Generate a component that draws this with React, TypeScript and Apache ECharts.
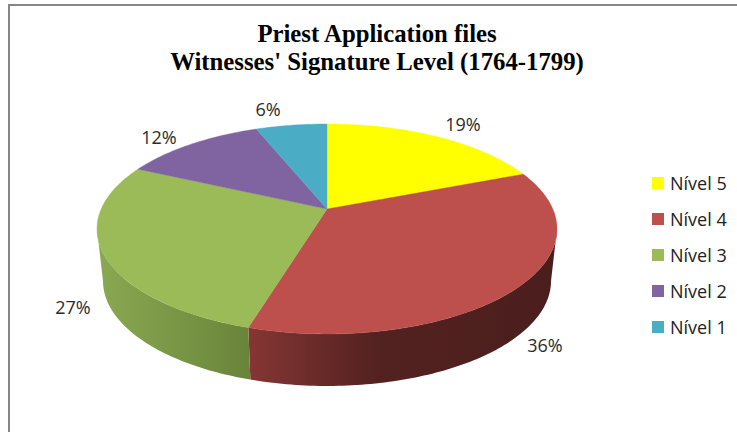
import React, { useEffect, useRef } from "react";
import * as echarts from "echarts";

const categories = ["Nível 5", "Nível 4", "Nível 3", "Nível 2", "Nível 1"];
const shares = [19, 35.6, 27.4, 12, 6];
const titleLines = ["Priest Application files", "Witnesses' Signature Level (1764-1799)"];

const colors = ["#FFFF00", "#BD4F4C", "#9BBB59", "#8064A2", "#4BACC6"];
const wallStops = [
  null,
  [[0, "#863634"], [0.22, "#6a2b29"], [0.42, "#532220"], [1, "#4a1e1d"]],
  [[0, "#8aa952"], [1, "#69843a"]],
  null,
  null,
];
const labelCentres = [[463, 124], [545, 345], [73, 307], [159, 137], [268, 109]];

// pie projection
const CX = 327, CY = 209, RX = 225.8, RY = 101.2, TILT = 0.19, DEPTH = 52, BOTTOM_SCALE = 0.974;
const WALL_FROM = 101, WALL_TO = 259;

const total = shares.reduce((a, b) => a + b, 0);
const project = (deg: number, bottom: boolean) => {
  const t = (deg * Math.PI) / 180;
  const u = Math.sin(t);
  const v = -Math.cos(t);
  const w = 1 - TILT * v;
  return [
    CX + ((bottom ? BOTTOM_SCALE : 1) * RX * u) / w,
    CY + (bottom ? DEPTH : 0) + (RY * v) / w,
  ];
};
const arc = (a: number, b: number, bottom: boolean) => {
  const pts: number[][] = [];
  const n = Math.max(2, Math.ceil(Math.abs(b - a)));
  for (let i = 0; i <= n; i++) pts.push(project(a + ((b - a) * i) / n, bottom));
  return pts;
};

export default function App() {
  const ref = useRef<HTMLDivElement>(null);
  useEffect(() => {
    const chart = echarts.init(ref.current!, undefined, { renderer: "svg" });
    let acc = 0;
    const series = categories.map((name, i) => {
      const start = (acc / total) * 360;
      acc += shares[i];
      const end = (acc / total) * 360;
      const wa = Math.max(start, WALL_FROM);
      const wb = Math.min(end, WALL_TO);
      return {
        type: "custom",
        name,
        coordinateSystem: "none",
        itemStyle: { color: colors[i] },
        data: [[shares[i]]],
        renderItem: (_p: any, api: any) => {
          const children: any[] = [];
          const stops = wallStops[i];
          if (stops && wb > wa) {
            children.push({
              type: "polygon",
              shape: { points: [...arc(wa, wb, false), ...arc(wb, wa, true)] },
              style: {
                fill: new echarts.graphic.LinearGradient(
                  0, 0, 1, 0,
                  stops.map((s: any) => ({ offset: s[0], color: s[1] }))
                ),
              },
            });
          }
          children.push({
            type: "polygon",
            shape: { points: [[CX, CY], ...arc(start, end, false)] },
            style: { fill: colors[i], stroke: colors[i], lineWidth: 0.4 },
          });
          children.push({
            type: "text",
            x: labelCentres[i][0],
            y: labelCentres[i][1],
            style: {
              text: `${Math.round(api.value(0))}%`,
              fill: "#2b2b2b",
              font: '18px "Open Sans"',
              align: "center",
              verticalAlign: "middle",
            },
          });
          return { type: "group", children };
        },
      };
    });
    chart.setOption({
      animation: false,
      backgroundColor: "#ffffff",
      title: {
        text: titleLines.join("\n"),
        left: 372,
        top: 14,
        textAlign: "center",
        textStyle: {
          fontFamily: '"Liberation Serif"',
          fontWeight: "bold",
          fontSize: 24.75,
          lineHeight: 28,
          color: "#000000",
        },
      },
      legend: {
        orient: "vertical",
        left: 652,
        top: 174,
        icon: "rect",
        itemWidth: 12,
        itemHeight: 12,
        itemGap: 18,
        data: categories,
        textStyle: {
          fontFamily: '"Open Sans"',
          fontSize: 18,
          lineHeight: 18,
          color: "#222222",
          padding: [0, 0, 0, 1],
        },
        padding: 0,
      },
      graphic: [
        {
          type: "rect",
          silent: true,
          shape: { x: 9, y: 5, width: 760, height: 460 },
          style: { fill: "none", stroke: "#868686", lineWidth: 2 },
        },
      ],
      series,
    });
    return () => chart.dispose();
  }, []);
  return (
    <div
      ref={ref}
      style={{ position: "absolute", left: 0, top: 0, width: 737, height: 432 }}
    />
  );
}
